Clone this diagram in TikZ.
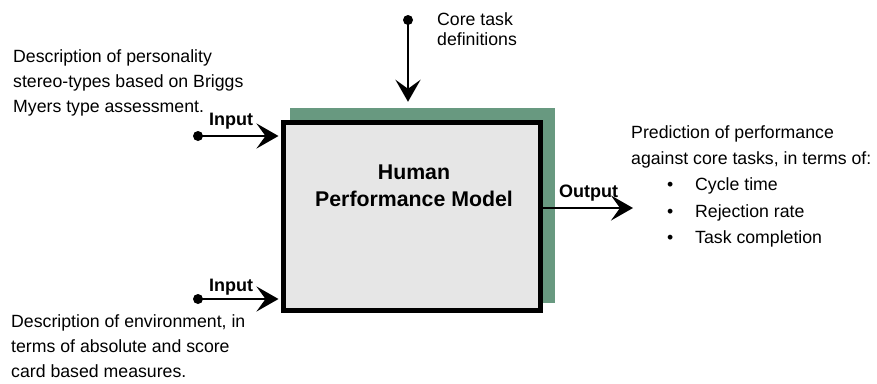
\documentclass[tikz,border=0pt]{standalone}
\usepackage{fontspec}
\setmainfont{Liberation Sans}
\usetikzlibrary{arrows.meta}
\definecolor{shadowgreen}{RGB}{104,153,128}
\definecolor{boxgray}{RGB}{230,230,230}
\begin{document}
\begin{tikzpicture}[x=1pt,y=-1pt,
  txt/.style={inner sep=0pt,align=left,font=\fontsize{17.7}{25}\selectfont},
  lbl/.style={inner sep=0pt,font=\fontsize{18}{22}\selectfont\bfseries},
  dotnode/.style={circle,fill=black,inner sep=0pt,minimum size=10pt},
  arr/.style={line width=2.8pt,-{Stealth[length=22pt,width=25pt,inset=9pt]}},
  shadowbox/.style={fill=shadowgreen,inner sep=0pt,minimum width=265pt,minimum height=195pt},
  modelbox/.style={draw=black,line width=5pt,fill=boxgray,inner sep=0pt,minimum width=257pt,minimum height=188pt}]
\path[use as bounding box] (0,0) rectangle (877,383);

% boxes
\node[shadowbox] (shadow) at (422.5,205.5) {};
\node[modelbox] (model) at (412,216.5) {};
\node[inner sep=0pt,align=center,anchor=north,font=\fontsize{21.3}{27}\selectfont\bfseries] (title) at (414,165) {Human\\Performance Model};

% top input (control)
\node[dotnode] (core) at (408,20) {};
\node[txt,anchor=north west,font=\fontsize{17.7}{20}\selectfont] (coretxt) at (437,12.3) {Core task\\definitions};
\draw[arr,shorten >=6pt] (core.center) -- (core |- shadow.north);

% input 1
\node[dotnode] (in1) at (198,136) {};
\node[txt,anchor=north west] (in1txt) at (13,49.3) {Description of personality\\stereo-types based on Briggs\\Myers type assessment.};
\node[lbl,anchor=base west] (in1lbl) at (209,125) {Input};
\draw[arr,shorten >=2.5pt] (in1.center) -- (in1 -| model.west);

% input 2
\node[dotnode] (in2) at (198,299) {};
\node[txt,anchor=north west] (in2txt) at (11,314.3) {Description of environment, in\\terms of absolute and score\\card based measures.};
\node[lbl,anchor=base west] (in2lbl) at (209,291) {Input};
\draw[arr,shorten >=2.5pt] (in2.center) -- (in2 -| model.west);

% output
\coordinate (outend) at (633,208);
\node[lbl,anchor=base west] (outlbl) at (559,197) {Output};
\draw[arr,line width=2pt] (model.east |- outend) -- (outend);
\node[txt,anchor=north west,font=\fontsize{17.7}{26.3}\selectfont] (outtxt) at (631,125.3) {Prediction of performance\\against core tasks, in terms of:\\
\hspace*{36pt}\makebox[28pt][l]{•}Cycle time\\
\hspace*{36pt}\makebox[28pt][l]{•}Rejection rate\\
\hspace*{36pt}\makebox[28pt][l]{•}Task completion};
\end{tikzpicture}
\end{document}
